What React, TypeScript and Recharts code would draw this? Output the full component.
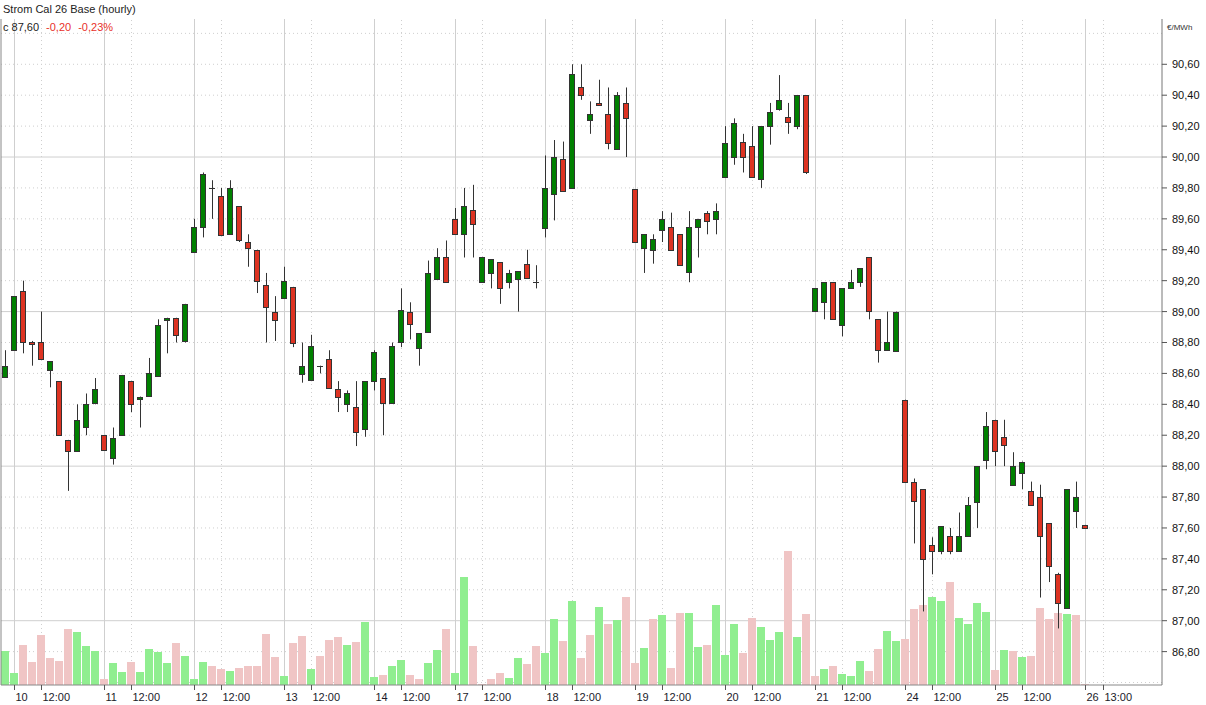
import React from "react";
import { ComposedChart, Bar, XAxis, YAxis, ReferenceLine } from "recharts";

// hourly OHLC, index 0 = last hour of the 9th
const opens = [
  88.58, 88.75, 89.13, 88.8, 88.8, 88.62, 88.55, 88.17, 88.1, 88.25,
  88.41, 88.2, 88.05, 88.2, 88.55, 88.44, 88.45, 88.58, 88.95, 88.96,
  88.81, 89.39, 89.55, 89.8, 89.75, 89.5, 89.68, 89.45, 89.4, 89.17,
  89.0, 89.09, 89.16, 88.6, 88.56, 88.65, 88.69, 88.5, 88.4, 88.38,
  88.24, 88.55, 88.57, 88.41, 88.8, 89.0, 88.76, 88.87, 89.21, 89.35,
  89.6, 89.5, 89.66, 89.19, 89.25, 89.32, 89.19, 89.21, 89.31, 89.19,
  89.54, 89.76, 89.99, 89.8, 90.45, 90.24, 90.35, 90.28, 90.05, 90.35,
  89.79, 89.41, 89.4, 89.53, 89.55, 89.5, 89.26, 89.55, 89.64, 89.6,
  89.87, 90.0, 90.1, 90.07, 89.86, 90.2, 90.31, 90.26, 90.2, 90.4,
  89.0, 89.06, 89.19, 88.91, 89.15, 89.19, 89.35, 88.95, 88.75, 88.75,
  88.43, 87.9, 87.85, 87.49, 87.45, 87.55, 87.45, 87.55, 87.77, 88.04,
  88.3, 88.19, 87.88, 87.96, 87.84, 87.8, 87.63, 87.3, 87.08, 87.71,
  87.62,
];
const highs = [
  88.75, 89.1, 89.2, 88.81, 89.0, 88.68, 88.55, 88.17, 88.4, 88.47,
  88.57, 88.2, 88.25, 88.59, 88.55, 88.45, 88.7, 88.95, 88.96, 88.96,
  89.05, 89.6, 89.9, 89.85, 89.8, 89.85, 89.68, 89.5, 89.4, 89.25,
  89.1, 89.29, 89.16, 88.8, 88.85, 88.65, 88.75, 88.55, 88.49, 88.55,
  88.55, 88.75, 88.57, 88.8, 89.15, 89.06, 88.86, 89.33, 89.41, 89.46,
  89.67, 89.8, 89.82, 89.35, 89.34, 89.32, 89.27, 89.26, 89.4, 89.3,
  90.01, 90.11, 90.1, 90.6, 90.6, 90.36, 90.5, 90.45, 90.42, 90.45,
  89.79, 89.5, 89.5, 89.65, 89.64, 89.5, 89.65, 89.6, 89.65, 89.7,
  90.2, 90.25, 90.15, 90.2, 90.2, 90.35, 90.53, 90.35, 90.4, 90.4,
  89.15, 89.19, 89.19, 89.15, 89.27, 89.28, 89.35, 88.95, 89.0, 89.0,
  88.43, 87.92, 87.85, 87.54, 87.61, 87.6, 87.7, 87.8, 88.0, 88.35,
  88.3, 88.3, 88.09, 88.03, 87.9, 87.88, 87.63, 87.31, 87.85, 87.9,
  87.62,
];
const lows = [
  88.58, 88.75, 88.73, 88.65, 88.69, 88.51, 88.2, 87.84, 88.1, 88.2,
  88.4, 88.1, 88.01, 88.2, 88.35, 88.25, 88.45, 88.58, 88.73, 88.8,
  88.8, 89.38, 89.48, 89.6, 89.5, 89.5, 89.45, 89.29, 89.12, 88.8,
  88.81, 89.09, 88.77, 88.54, 88.55, 88.6, 88.5, 88.35, 88.35, 88.13,
  88.19, 88.49, 88.2, 88.41, 88.77, 88.82, 88.65, 88.87, 89.21, 89.19,
  89.5, 89.35, 89.35, 89.19, 89.15, 89.05, 89.15, 89.0, 89.22, 89.15,
  89.48, 89.59, 89.78, 89.8, 90.37, 90.15, 90.34, 90.05, 90.05, 90.0,
  89.45, 89.25, 89.31, 89.45, 89.4, 89.3, 89.19, 89.35, 89.5, 89.5,
  89.87, 89.95, 89.9, 89.87, 89.8, 90.08, 90.3, 90.15, 90.18, 89.89,
  89.0, 88.95, 88.95, 88.84, 89.15, 89.16, 88.95, 88.67, 88.75, 88.75,
  87.9, 87.5, 87.06, 87.3, 87.43, 87.43, 87.45, 87.55, 87.6, 87.98,
  88.0, 88.0, 87.88, 87.85, 87.75, 87.15, 87.25, 86.95, 87.08, 87.6,
  87.6,
];
const closes = [
  88.65, 89.1, 88.8, 88.79, 88.69, 88.68, 88.2, 88.1, 88.3, 88.4,
  88.5, 88.1, 88.18, 88.59, 88.4, 88.45, 88.6, 88.91, 88.96, 88.85,
  89.05, 89.55, 89.89, 89.8, 89.5, 89.8, 89.46, 89.41, 89.2, 89.03,
  88.95, 89.2, 88.8, 88.65, 88.78, 88.65, 88.5, 88.45, 88.47, 88.22,
  88.55, 88.74, 88.41, 88.78, 89.01, 88.92, 88.86, 89.25, 89.35, 89.19,
  89.5, 89.68, 89.57, 89.35, 89.34, 89.15, 89.25, 89.26, 89.22, 89.19,
  89.8, 90.0, 89.78, 90.54, 90.4, 90.28, 90.34, 90.09, 90.4, 90.25,
  89.45, 89.5, 89.47, 89.6, 89.4, 89.3, 89.55, 89.6, 89.59, 89.65,
  90.09, 90.22, 90.0, 89.87, 90.2, 90.29, 90.37, 90.23, 90.4, 89.9,
  89.15, 89.19, 88.95, 89.15, 89.19, 89.28, 89.0, 88.75, 88.8, 89.0,
  87.9, 87.78, 87.4, 87.45, 87.61, 87.45, 87.55, 87.75, 88.0, 88.26,
  88.1, 88.14, 88.0, 88.03, 87.75, 87.55, 87.35, 87.11, 87.85, 87.8,
  87.6,
];
const volumes = [
  34, 12, 40, 23, 50, 27, 24, 56, 53, 39,
  34, 6, 22, 13, 23, 13, 36, 33, 22, 42,
  29, 6, 23, 19, 16, 14, 17, 19, 19, 51,
  28, 9, 42, 49, 16, 29, 45, 48, 40, 43,
  63, 8, 10, 19, 25, 10, 6, 22, 35, 56,
  12, 108, 39, 1, 6, 12, 7, 27, 21, 39,
  32, 66, 44, 84, 27, 50, 78, 61, 65, 88,
  22, 37, 66, 70, 17, 72, 72, 38, 40, 80,
  30, 61, 32, 67, 58, 45, 53, 134, 48, 71,
  9, 16, 19, 11, 9, 24, 14, 36, 54, 44,
  46, 76, 80, 88, 84, 103, 67, 61, 82, 73,
  15, 35, 34, 28, 29, 77, 66, 72, 71, 70,
  1,
];

// x-axis labels (bar index -> text)
const tickIdx = [1, 4, 11, 14, 21, 24, 31, 34, 41, 44, 50, 53, 60, 63, 70, 73, 80, 83, 90, 93, 100, 103, 110, 113, 120, 122];
const tickText = ["10", "12:00", "11", "12:00", "12", "12:00", "13", "12:00", "14", "12:00", "17", "12:00", "18", "12:00", "19", "12:00", "20", "12:00", "21", "12:00", "24", "12:00", "25", "12:00", "26", "13:00"];
const slots = 129;

const priceTicks = [86.8, 87.0, 87.2, 87.4, 87.6, 87.8, 88.0, 88.2, 88.4, 88.6, 88.8, 89.0, 89.2, 89.4, 89.6, 89.8, 90.0, 90.2, 90.4, 90.6];
const gridPrices = [86.6, 86.8, 87.0, 87.2, 87.4, 87.6, 87.8, 88.0, 88.2, 88.4, 88.6, 88.8, 89.0, 89.2, 89.4, 89.6, 89.8, 90.0, 90.2, 90.4, 90.6, 90.8];
const priceDomain = [86.584, 90.893];

const GREEN = "#008000";
const RED = "#dd3322";
const VOL_UP = "#90ee90";
const VOL_DOWN = "#f0c5c5";
const OUTLINE = "#333333";
const GRID = "#cfcfcf";
const FONT = "'Liberation Sans', Arial, sans-serif";

const data = Array.from({ length: slots }, (_, i) => ({
  i,
  o: opens[i],
  h: highs[i],
  l: lows[i],
  c: closes[i],
  v: volumes[i],
  up: i === 0 || closes[i] >= closes[i - 1],
}));

const fmt = (v: number) => v.toFixed(2).replace(".", ",");

const Candle = (props: any) => {
  const { x, y, width, height, payload } = props;
  if (payload == null || payload.o == null || !height) return null;
  const top = Math.min(y, y + height);
  const h = Math.abs(height);
  const px = (v: number) => top + ((payload.h - v) / (payload.h - payload.l)) * h;
  const cx = Math.floor(x + width / 2);
  const bTop = px(Math.max(payload.o, payload.c));
  const bBot = px(Math.min(payload.o, payload.c));
  if (payload.o === payload.c) {
    return (
      <g>
        <line x1={cx + 0.5} x2={cx + 0.5} y1={top} y2={top + h} stroke={OUTLINE} />
        <line x1={cx - 3} x2={cx + 3} y1={Math.round(bTop) + 0.5} y2={Math.round(bTop) + 0.5} stroke={OUTLINE} />
      </g>
    );
  }
  return (
    <g>
      <line x1={cx + 0.5} x2={cx + 0.5} y1={top} y2={top + h} stroke={OUTLINE} />
      <rect
        x={cx - 2.5}
        y={Math.round(bTop) + 0.5}
        width={5}
        height={Math.max(Math.round(bBot - bTop), 1)}
        fill={payload.c > payload.o ? GREEN : RED}
        stroke={OUTLINE}
      />
    </g>
  );
};

const VolBar = (props: any) => {
  const { x, y, height, payload } = props;
  if (payload == null || payload.v == null || !height) return null;
  return (
    <rect
      x={Math.floor(x) - 1}
      y={Math.round(y)}
      width={8}
      height={Math.round(height)}
      fill={payload.up ? VOL_UP : VOL_DOWN}
    />
  );
};

const XTick = (props: any) => {
  const { x, y, payload } = props;
  const k = tickIdx.indexOf(payload.value);
  return (
    <text x={x + 1} y={y} dy={9} fontSize={11} fontFamily={FONT} fill="#1a1a2a">
      {k >= 0 ? tickText[k] : ""}
    </text>
  );
};

const YTick = (props: any) => {
  const { x, y, payload } = props;
  return (
    <text x={x + 3} y={y} dy={4} fontSize={11} fontFamily={FONT} fill="#111">
      {fmt(payload.value)}
    </text>
  );
};

export default function App() {
  return (
    <div style={{ position: "absolute", left: 0, top: 0, width: 1206, height: 705, background: "#fff", fontFamily: FONT }}>
      <ComposedChart width={1206} height={705} data={data} margin={{ top: 19, right: 0, bottom: 0, left: 0 }}>
        <XAxis
          xAxisId="c"
          dataKey="i"
          type="category"
          height={20}
          ticks={tickIdx}
          interval={0}
          tick={<XTick />}
          tickSize={5}
          tickLine={{ stroke: "#555" }}
          axisLine={{ stroke: "#888" }}
        />
        <XAxis xAxisId="v" dataKey="i" type="category" hide />
        <YAxis
          yAxisId="p"
          orientation="right"
          type="number"
          width={44}
          domain={priceDomain}
          allowDataOverflow
          ticks={priceTicks}
          interval={0}
          tick={<YTick />}
          tickSize={5}
          tickLine={{ stroke: "#555" }}
          axisLine={{ stroke: "#777" }}
        />
        <YAxis yAxisId="v" type="number" domain={[0, 666]} hide />
        <YAxis yAxisId="l" orientation="left" width={1} domain={[0, 1]} tick={false} tickLine={false} axisLine={{ stroke: "#888" }} />

        {gridPrices.map((p) => (
          <ReferenceLine
            key={"h" + p}
            xAxisId="c"
            yAxisId="p"
            y={p}
            stroke={GRID}
            strokeDasharray={Math.abs(p - Math.round(p)) < 0.01 ? undefined : "1 3"}
            zIndex={-50}
          />
        ))}
        {tickIdx.map((t, k) => (
          <ReferenceLine
            key={"v" + t}
            xAxisId="c"
            yAxisId="p"
            x={t}
            stroke={GRID}
            strokeDasharray={tickText[k].includes(":") ? "1 3" : undefined}
            zIndex={-50}
          />
        ))}

        <Bar xAxisId="v" yAxisId="v" dataKey="v" barSize={8} shape={<VolBar />} isAnimationActive={false} />
        <Bar
          xAxisId="c"
          yAxisId="p"
          dataKey={(d: any) => (d.o == null ? null : [d.l, d.h])}
          barSize={7}
          shape={<Candle />}
          isAnimationActive={false}
        />
      </ComposedChart>

      <div style={{ position: "absolute", left: 3, top: 3, fontSize: 11, lineHeight: "13px", color: "#222" }}>
        Strom Cal 26 Base (hourly)
      </div>
      <div style={{ position: "absolute", left: 3, top: 21, fontSize: 11, lineHeight: "13px", color: "#222", whiteSpace: "pre" }}>
        c 87,60
        <span style={{ color: "#e8302a", marginLeft: 7 }}>-0,20</span>
        <span style={{ color: "#e8302a", marginLeft: 7 }}>-0,23%</span>
      </div>
      <div style={{ position: "absolute", left: 1167, top: 23, fontSize: 8, lineHeight: "9px", color: "#333" }}>
        €/MWh
      </div>
    </div>
  );
}
